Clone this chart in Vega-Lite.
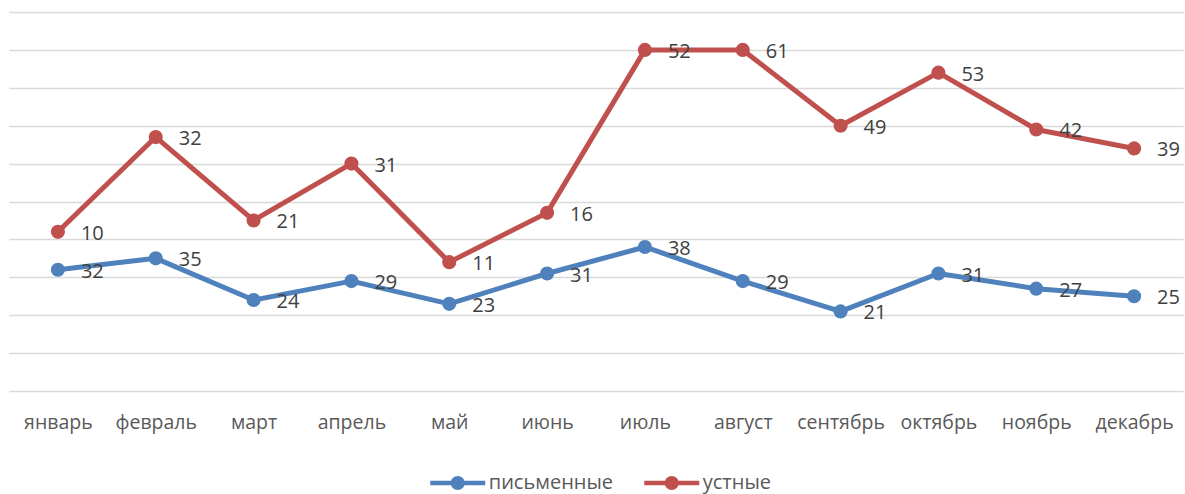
{
  "$schema": "https://vega.github.io/schema/vega-lite/v6.json",
  "width": 1174,
  "height": 379,
  "autosize": {"type": "none"},
  "padding": {"left": 9, "top": 12, "right": 2, "bottom": 103},
  "config": {"view": {"stroke": null}, "font": "Open Sans"},
  "data": {"values": [
    {"m": "январь", "s": "письменные", "v": 32},
    {"m": "февраль", "s": "письменные", "v": 35},
    {"m": "март", "s": "письменные", "v": 24},
    {"m": "апрель", "s": "письменные", "v": 29},
    {"m": "май", "s": "письменные", "v": 23},
    {"m": "июнь", "s": "письменные", "v": 31},
    {"m": "июль", "s": "письменные", "v": 38},
    {"m": "август", "s": "письменные", "v": 29},
    {"m": "сентябрь", "s": "письменные", "v": 21},
    {"m": "октябрь", "s": "письменные", "v": 31},
    {"m": "ноябрь", "s": "письменные", "v": 27},
    {"m": "декабрь", "s": "письменные", "v": 25},
    {"m": "январь", "s": "устные", "v": 10},
    {"m": "февраль", "s": "устные", "v": 32},
    {"m": "март", "s": "устные", "v": 21},
    {"m": "апрель", "s": "устные", "v": 31},
    {"m": "май", "s": "устные", "v": 11},
    {"m": "июнь", "s": "устные", "v": 16},
    {"m": "июль", "s": "устные", "v": 52},
    {"m": "август", "s": "устные", "v": 61},
    {"m": "сентябрь", "s": "устные", "v": 49},
    {"m": "октябрь", "s": "устные", "v": 53},
    {"m": "ноябрь", "s": "устные", "v": 42},
    {"m": "декабрь", "s": "устные", "v": 39}
  ]},
  "transform": [
    {"stack": "v", "groupby": ["m"], "sort": [{"field": "s", "order": "ascending"}], "as": ["y0", "y1"]}
  ],
  "encoding": {
    "x": {
      "field": "m", "type": "nominal",
      "sort": ["январь", "февраль", "март", "апрель", "май", "июнь", "июль", "август", "сентябрь", "октябрь", "ноябрь", "декабрь"],
      "scale": {"type": "point", "padding": 0.5},
      "axis": {"title": null, "domain": false, "ticks": false, "grid": false, "labelAngle": 0, "labelFontSize": 19.5, "labelColor": "#595959", "labelPadding": 22}
    },
    "y": {
      "field": "y1", "type": "quantitative",
      "scale": {"domain": [0, 100], "nice": false},
      "axis": {"title": null, "domain": false, "ticks": false, "labels": false, "grid": true, "values": [0, 10, 20, 30, 40, 50, 60, 70, 80, 90, 100], "gridColor": "#d9d9d9", "gridWidth": 1.5}
    },
    "color": {
      "field": "s", "type": "nominal",
      "scale": {"domain": ["письменные", "устные"], "range": ["#4F81BD", "#C0504D"]},
      "legend": {
        "title": null,
        "orient": "none",
        "direction": "horizontal",
        "legendX": 434.75,
        "legendY": 457,
        "padding": 0,
        "symbolType": "M-2,-0.16 L2,-0.16 L2,0.16 L-2,0.16 Z M0.51,0 A0.51,0.51 0 1 1 -0.51,0 A0.51,0.51 0 1 1 0.51,0 Z",
        "symbolSize": 756,
        "symbolStrokeWidth": 0,
        "symbolOpacity": 1,
        "labelFontSize": 20,
        "labelColor": "#595959",
        "labelOffset": 17,
        "columnPadding": 30,
        "encode": {"symbols": {"update": {"fill": {"scale": "color", "field": "value"}, "stroke": {"value": "transparent"}}}}
      }
    }
  },
  "layer": [
    {
      "mark": {"type": "line", "strokeWidth": 5, "strokeCap": "round", "strokeJoin": "round"}
    },
    {
      "mark": {"type": "point", "filled": true, "size": 200, "opacity": 1}
    },
    {
      "mark": {"type": "text", "align": "left", "baseline": "middle", "dx": 23, "dy": 2, "fontSize": 20, "color": "#404040"},
      "encoding": {"text": {"field": "v", "type": "quantitative"}, "color": {"value": "#404040"}}
    }
  ]
}
